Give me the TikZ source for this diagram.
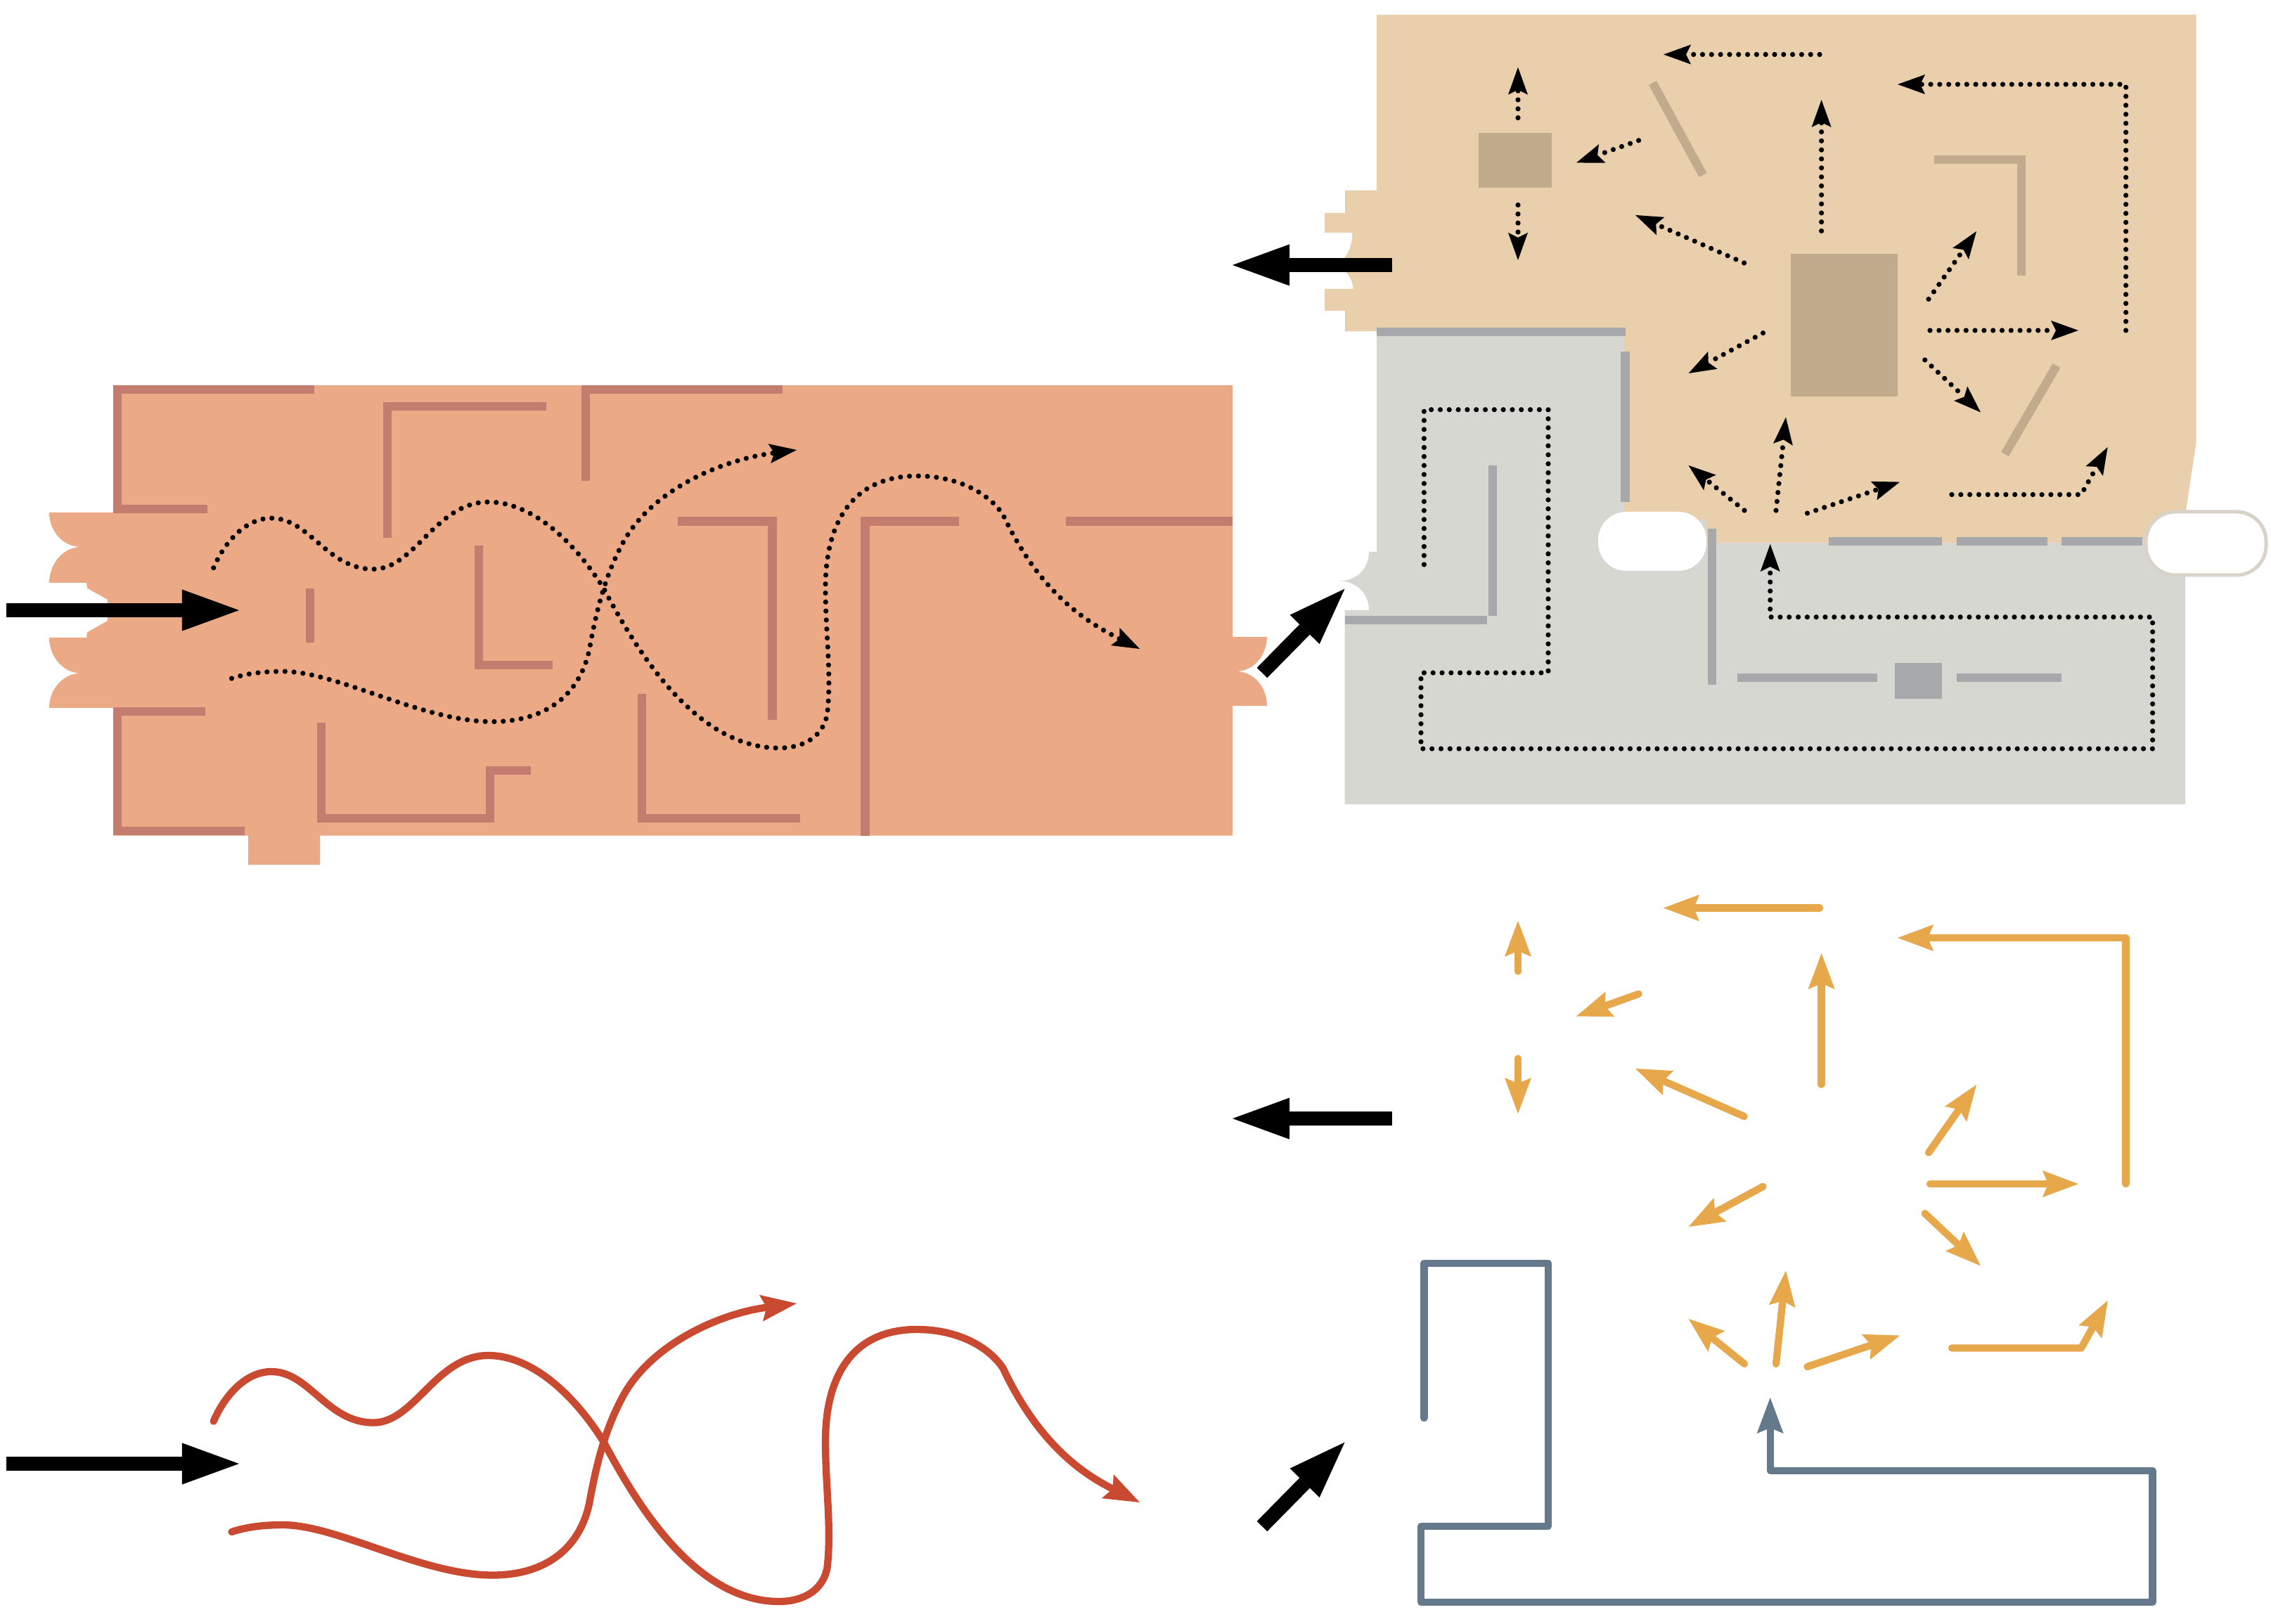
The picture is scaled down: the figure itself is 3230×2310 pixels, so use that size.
\documentclass[tikz,border=0pt]{standalone}
\usetikzlibrary{arrows.meta}
\definecolor{salmon}{HTML}{EBA985}
\definecolor{salmonwall}{HTML}{C47C6E}
\definecolor{tanfill}{HTML}{E9CFAC}
\definecolor{tandark}{HTML}{C2AA8C}
\definecolor{greyfill}{HTML}{D6D7D1}
\definecolor{greywall}{HTML}{A7A8AC}
\definecolor{pillline}{HTML}{D8D2C8}
\definecolor{redflow}{HTML}{C94A31}
\definecolor{orangeflow}{HTML}{E6A84B}
\definecolor{blueflow}{HTML}{64798C}
\tikzset{
  wallbase/.style={line width=0.125cm,line cap=butt,line join=miter},
  wallS/.style={wallbase,draw=salmonwall},
  wallT/.style={wallbase,draw=tandark},
  wallG/.style={wallbase,draw=greywall},
  dotline/.style={line width=0.072cm,line cap=round,dash pattern=on 0pt off 0.128cm,-{Stealth[length=0.39cm,width=0.28cm,inset=0.07cm,line width=0pt]},draw=black},
  flowline/.style={line width=0.103cm,line cap=round,line join=round,-{Stealth[length=0.51cm,width=0.38cm,inset=0.08cm,line width=0pt]}},
  bigarrow/.style={line width=0.205cm,draw=black,-{Triangle[length=0.81cm,width=0.59cm,line width=0pt]}}
}
\newcommand{\curvesA}[1]{%
  \draw[#1] (303.7,807.7) .. controls (320,770) and (350,737) .. (386,737)
    .. controls (440,737) and (465,809.6) .. (531,809.6)
    .. controls (590,809.6) and (620,714) .. (694.6,714)
    .. controls (750,714) and (810,760) .. (858,836)
    .. controls (900,915) and (985,1064) .. (1108,1064)
    .. controls (1140,1064) and (1170,1050) .. (1176.5,1016)
    .. controls (1183,960) and (1174,900) .. (1174,836)
    .. controls (1174,740) and (1215,677) .. (1304,677)
    .. controls (1360,677) and (1405,700) .. (1426.5,732)
    .. controls (1475,835) and (1535,880) .. (1621,923);
  \draw[#1] (329.5,965) .. controls (350,958) and (375,955) .. (402,955)
    .. controls (480,955) and (600,1026.5) .. (700,1026.5)
    .. controls (780,1026.5) and (825,985) .. (838,925)
    .. controls (848,870) and (860,820) .. (886,772)
    .. controls (925,700) and (1020,655) .. (1133,640);
}
\newcommand{\pathsTan}[1]{%
  \draw[#1] (2159,167.6) -- (2159,95.7);
  \draw[#1] (2159,291.6) -- (2159,370);
  \draw[#1] (2588,77.5) -- (2366,77.5);
  \draw[#1] (2330.6,199.8) -- (2242,231.5);
  \draw[#1] (2480.6,374) -- (2326,306);
  \draw[#1] (2507.5,473.7) -- (2401.6,531);
  \draw[#1] (2590.6,328.5) -- (2590.6,142);
  \draw[#1] (3023.6,470) -- (3023.6,120) -- (2699,120);
  \draw[#1] (2743,425.5) -- (2811,329);
  \draw[#1] (2745,470) -- (2956,470);
  \draw[#1] (2737.7,512) -- (2817,586.5);
  \draw[#1] (2526,726) -- (2540,593.5);
  \draw[#1] (2481,726) -- (2401.6,662);
  \draw[#1] (2570.5,730) -- (2702,685.6);
  \draw[#1] (2776,703.5) -- (2960,703.5) -- (2997.7,636);
}
\newcommand{\pathGreyRoute}[1]{%
  \draw[#1] (2025.4,803) -- (2025.4,582.7) -- (2202,582.7) -- (2202,957) -- (2021,957) -- (2021,1065) -- (3061.6,1065) -- (3061.6,877.7) -- (2517.7,877.7) -- (2517.7,774);
}
\begin{document}
\begin{tikzpicture}[x=0.01cm,y=-0.01cm]
\useasboundingbox (0,0) rectangle (3230,2310);
% salmon block
\fill[salmon] (161,548) -- (1753,548) -- (1753,906) -- (1802,906)
  .. controls (1802,932) and (1783,955) .. (1757.6,955)
  .. controls (1783,955) and (1802,977) .. (1802,1004)
  -- (1753,1004) -- (1753,1188.5) -- (455,1188.5) -- (455,1230) -- (353,1230) -- (353,1188.5) -- (161,1188.5) -- (161,1007) -- (70,1007)
  .. controls (70,980) and (90,957.6) .. (115,957.6)
  .. controls (90,957.6) and (70,934) .. (70,907)
  -- (123,907) -- (124,899.4) -- (153,883) -- (153,853) -- (124,836.6) -- (123,829) -- (70,829)
  .. controls (70,802) and (90,778) .. (115,778)
  .. controls (90,778) and (70,756) .. (70,729)
  -- (161,729) -- cycle;
\draw[wallS] (447,554) -- (167,554) -- (167,724) -- (294.5,724);
\draw[wallS] (777,578) -- (551,578) -- (551,765);
\draw[wallS] (1113,554) -- (833,554) -- (833,684);
\draw[wallS] (441,836.6) -- (441,914);
\draw[wallS] (681,776) -- (681,946) -- (786,946);
\draw[wallS] (291.6,1012) -- (167,1012) -- (167,1182) -- (348,1182);
\draw[wallS] (457,1028) -- (457,1164) -- (697,1164) -- (697,1096) -- (755,1096);
\draw[wallS] (964,741.5) -- (1098.5,741.5) -- (1098.5,1024);
\draw[wallS] (1230.5,1188.5) -- (1230.5,741.5) -- (1364,741.5);
\draw[wallS] (1516,741.5) -- (1753,741.5);
\draw[wallS] (913,987) -- (913,1164) -- (1138,1164);
% tan block
\fill[tanfill] (1958,21) -- (3123.6,21) -- (3123.6,629) -- (3109,726) -- (3109,772) -- (2310,772) -- (2310,471.5) -- (1913,471.5) -- (1913,442) -- (1884,442) -- (1884,411) -- (1924.5,411)
  .. controls (1924,395) and (1912,378) .. (1890,378)
  .. controls (1912,378) and (1923,355) .. (1923.5,331)
  -- (1884,331) -- (1884,303) -- (1913,303) -- (1913,271) -- (1958,271) -- cycle;
% grey block
\fill[greyfill] (1958,466) -- (2310,466) -- (2310,740) -- (2427,740) -- (2427,772) -- (3108,772) -- (3108,1144) -- (1912.5,1144) -- (1912.5,868) -- (1947,868)
  .. controls (1947,845) and (1930,826.5) .. (1904.5,826.5)
  .. controls (1930,826.5) and (1947,808) .. (1947,785)
  -- (1958,785) -- cycle;
% pills
\fill[white,rounded corners=0.4cm] (2273,728) rectangle (2427,812);
\draw[pillline,fill=white,line width=0.05cm,rounded corners=0.42cm] (3052,728) rectangle (3223,818);
% tan furniture
\fill[tandark] (2103,189.4) rectangle (2206.6,266.7);
\fill[tandark] (2547,361) rectangle (2698.6,563.7);
\draw[wallT] (2350.5,118) -- (2422,249);
\draw[wallT] (2750.5,227) -- (2875,227) -- (2875,392.4);
\draw[wallT] (2925,520) -- (2851.6,646);
% grey furniture
\draw[wallG] (1958,472) -- (2312,472);
\draw[wallG] (2311.5,500.5) -- (2311.5,714);
\draw[wallG] (2435,752) -- (2435,974);
\draw[wallG] (2601,770) -- (2762,770);
\draw[wallG] (2783,770) -- (2912,770);
\draw[wallG] (2932,770) -- (3047,770);
\draw[wallG] (2471,964) -- (2670,964);
\draw[wallG] (2783,964) -- (2932,964);
\fill[greywall] (2695,942.7) rectangle (2762,994.3);
\draw[wallG] (2123,662) -- (2123,876);
\draw[wallG] (1912.5,882) -- (2115,882);
% dotted routes
\curvesA{dotline}
\pathsTan{dotline}
\pathGreyRoute{dotline}
% big black arrows, upper
\draw[bigarrow] (9,868) -- (340,868);
\draw[bigarrow] (1795,957) -- (1912.5,837.6);
\draw[bigarrow] (1980,377) -- (1753,377);
% lower diagram
\begin{scope}[shift={(0,1214)}]
\curvesA{flowline,draw=redflow}
\pathsTan{flowline,draw=orangeflow}
\pathGreyRoute{flowline,draw=blueflow}
\draw[bigarrow] (9,868) -- (340,868);
\draw[bigarrow] (1795,957) -- (1912.5,837.6);
\draw[bigarrow] (1980,377) -- (1753,377);
\end{scope}
\end{tikzpicture}
\end{document}
